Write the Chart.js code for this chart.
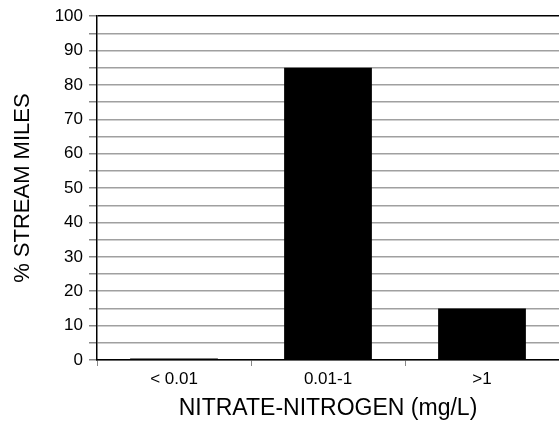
<!DOCTYPE html>
<html>
<head>
<meta charset="utf-8">
<script src="https://cdn.jsdelivr.net/npm/chart.js@4"></script>
<style>
  html, body { margin: 0; padding: 0; background: #fff; }
  #wrap { width: 559px; height: 426px; }
</style>
</head>
<body>
<div id="wrap"><canvas id="nitrateChart"></canvas></div>
<script>
const categories = ['< 0.01', '0.01-1', '>1'];
const streamMiles = [0.4, 85, 15];

const ctx = document.getElementById('nitrateChart');

new Chart(ctx, {
  type: 'bar',
  data: {
    labels: categories,
    datasets: [
      {
        label: '% Stream Miles',
        data: streamMiles,
        backgroundColor: '#000',
        borderWidth: 0,
        barPercentage: 0.57,
        categoryPercentage: 1
      }
    ]
  },
  options: {
    responsive: true,
    maintainAspectRatio: false,
    animation: false,
    layout: { padding: { top: 16, right: 0, left: 0, bottom: 0 } },
    plugins: {
      legend: { display: false },
      tooltip: { enabled: false }
    },
    scales: {
      x: {
        grid: {
          offset: true,
          drawOnChartArea: false,
          drawTicks: true,
          tickLength: 6,
          color: '#888'
        },
        border: { color: '#000', width: 1.5 },
        ticks: {
          color: '#000',
          padding: 3,
          font: { family: 'Liberation Sans', size: 17 }
        },
        title: {
          display: true,
          text: 'NITRATE-NITROGEN (mg/L)',
          color: '#000',
          font: { family: 'Liberation Sans', size: 23 },
          padding: { top: 11 }
        },
        afterFit: (scale) => { scale.height = 66; }
      },
      y: {
        min: 0,
        max: 100,
        ticks: {
          stepSize: 5,
          autoSkip: false,
          color: '#000',
          padding: 6,
          font: { family: 'Liberation Sans', size: 17 },
          callback: (v) => (v % 10 === 0 ? v : '')
        },
        grid: {
          color: (c) => (c.tick && c.tick.value === 100 ? '#000' : '#a0a0a0'),
          lineWidth: 1.5,
          tickLength: 8,
          tickColor: '#888'
        },
        border: { color: '#000', width: 1.5 },
        title: {
          display: true,
          text: '% STREAM MILES',
          color: '#000',
          font: { family: 'Liberation Sans', size: 22 },
          padding: { top: 10, bottom: 0 }
        },
        afterFit: (scale) => { scale.width = 97; }
      }
    }
  }
});
</script>
</body>
</html>
